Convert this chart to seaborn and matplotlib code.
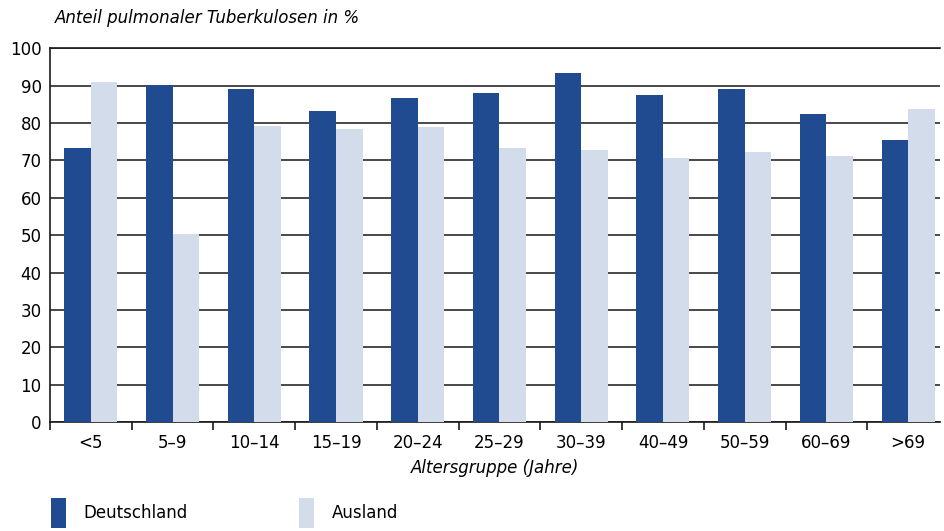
import pandas as pd
import matplotlib.pyplot as plt
from matplotlib.ticker import FixedLocator
import seaborn as sns

# Altersgruppen und Anteile (in %)
gruppen = ['<5', '5–9', '10–14', '15–19', '20–24', '25–29',
           '30–39', '40–49', '50–59', '60–69', '>69']
deutschland = [73.4, 90.2, 89.1, 83.1, 86.6, 88.0, 93.3, 87.5, 89.0, 82.3, 75.4]
ausland = [91.1, 50.2, 79.1, 78.5, 78.9, 73.3, 72.8, 70.6, 72.2, 71.1, 83.7]
herkunft = ['Deutschland', 'Ausland']

df = pd.DataFrame({
    'Gruppe': gruppen * 2,
    'Anteil': deutschland + ausland,
    'Herkunft': [herkunft[0]] * len(gruppen) + [herkunft[1]] * len(gruppen),
})

sns.set_style('white', {'text.color': 'black', 'axes.labelcolor': 'black',
                        'xtick.color': 'black', 'ytick.color': 'black',
                        'xtick.bottom': True})
plt.rcParams['font.family'] = ['DejaVu Sans']

fig = plt.figure(figsize=(9.45, 5.31), dpi=100)
ax = fig.add_axes([0.0529, 0.2053, 0.9418, 0.7037])

sns.barplot(data=df, x='Gruppe', y='Anteil', hue='Herkunft', order=gruppen,
            hue_order=herkunft, palette=['#214B91', '#D2DCEA'], width=0.65,
            saturation=1, linewidth=0, ax=ax, zorder=3)

ax.set_ylim(0, 100)
ax.set_xlim(-0.5, 10.39)
ax.set_yticks(range(0, 101, 10))
ax.yaxis.grid(True, color='#2a2a2a', linewidth=1.2, zorder=0)
ax.set_axisbelow(True)

for s in ['left', 'bottom', 'top']:
    ax.spines[s].set_color('#1a1a1a')
    ax.spines[s].set_linewidth(1.2)
ax.spines['right'].set_visible(False)

ax.tick_params(axis='y', length=0, labelsize=12, pad=6)
ax.tick_params(axis='x', which='major', length=0, labelsize=12, pad=9)
ax.xaxis.set_minor_locator(FixedLocator([i - 0.5 for i in range(len(gruppen))]))
ax.tick_params(axis='x', which='minor', bottom=True, length=6, width=1.2,
               color='#1a1a1a', direction='out')

ax.set_ylabel('')
ax.set_xlabel('Altersgruppe (Jahre)', fontsize=12, style='italic', labelpad=5)
fig.text(0.058, 0.967, 'Anteil pulmonaler Tuberkulosen in %', fontsize=12,
         style='italic', va='center', ha='left')

ax.get_legend().remove()
handles, labels = ax.get_legend_handles_labels()
fig.legend(handles, labels, loc='lower left', bbox_to_anchor=(0.038, -0.022),
           ncol=2, frameon=False, fontsize=12, handlelength=0.9,
           handleheight=2.4, handletextpad=1.05, columnspacing=6.7)

fig.savefig('out.png', dpi=100)
